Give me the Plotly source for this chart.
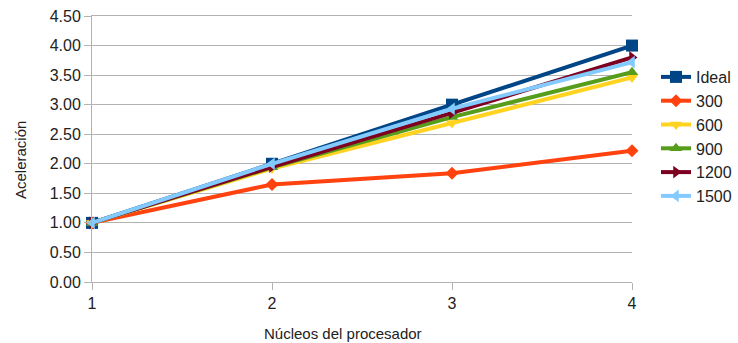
import plotly.graph_objects as go

cores = [1, 2, 3, 4]
series_names = ["Ideal", "300", "600", "900", "1200", "1500"]
ideal = [1.00, 2.00, 3.00, 4.00]
s300 = [1.00, 1.65, 1.84, 2.22]
s600 = [1.00, 1.92, 2.69, 3.46]
s900 = [1.00, 1.94, 2.79, 3.55]
s1200 = [1.00, 1.95, 2.86, 3.80]
s1500 = [1.00, 2.00, 2.93, 3.72]
y_ticks = [0, 0.5, 1, 1.5, 2, 2.5, 3, 3.5, 4, 4.5]

values = [ideal, s300, s600, s900, s1200, s1500]
colors = ["#004586", "#ff420e", "#ffd320", "#579d1c", "#7e0021", "#83caff"]
symbols = ["square", "diamond", "triangle-down", "triangle-up", "triangle-right", "triangle-left"]
sizes = [12, 10, 11, 11, 11, 11]

fig = go.Figure()
for name, vals, c, s, sz in zip(series_names, values, colors, symbols, sizes):
    fig.add_trace(go.Scatter(
        x=cores, y=vals, name=name, mode="lines+markers",
        line=dict(color=c, width=4),
        marker=dict(symbol=s, size=sz, color=c, line=dict(width=0)),
        cliponaxis=False,
    ))

L, R, T, B = 92, 106, 16, 61
pw, ph = 738 - L - R, 343 - T - B

font = "Liberation Sans, Arial, sans-serif"
fig.update_layout(
    width=738, height=343,
    margin=dict(l=L, r=R, t=T, b=B, autoexpand=False),
    paper_bgcolor="white", plot_bgcolor="white",
    font=dict(family=font, size=15, color="#222222"),
    showlegend=True,
    legend=dict(x=(656 - L) / pw, y=(282 - 60) / ph, xanchor="left", yanchor="top",
                font=dict(size=16, color="#222222"),
                bgcolor="rgba(0,0,0,0)", tracegroupgap=0),
    xaxis=dict(range=[1, 4], tickvals=cores, ticktext=[str(c) for c in cores],
               showgrid=False, showline=True, linecolor="#b3b3b3", linewidth=1,
               mirror=True, ticks="outside", ticklen=7, tickcolor="#b3b3b3",
               zeroline=False, automargin=False,
               tickfont=dict(size=16, color="#222222")),
    yaxis=dict(range=[0, 4.5], tickvals=y_ticks,
               ticktext=[f"{v:.2f}" for v in y_ticks],
               showgrid=True, gridcolor="#b3b3b3", gridwidth=1,
               showline=True, linecolor="#b3b3b3", linewidth=1,
               ticks="outside", ticklen=7, tickcolor="#b3b3b3",
               zeroline=False, automargin=False,
               tickfont=dict(size=16, color="#222222")),
    annotations=[
        dict(text="Núcleos del procesador", x=(343 - L) / pw, y=-(333 - 282) / ph,
             xref="paper", yref="paper", showarrow=False, xanchor="center", yanchor="middle",
             font=dict(size=15, color="#222222")),
        dict(text="Aceleración", x=-(L - 20) / pw, y=(282 - 160) / ph,
             xref="paper", yref="paper", showarrow=False, textangle=-90,
             xanchor="center", yanchor="middle", font=dict(size=15, color="#222222")),
    ],
)

fig.write_html("out.html")
